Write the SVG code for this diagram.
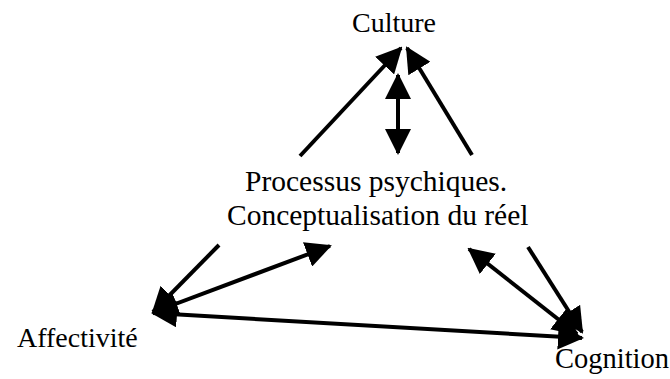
<svg xmlns="http://www.w3.org/2000/svg" width="670" height="379" viewBox="0 0 670 379">
  <defs>
    <marker id="head" viewBox="0 0 26 26" markerWidth="26" markerHeight="26" markerUnits="userSpaceOnUse" refX="24" refY="13" orient="auto-start-reverse">
      <path d="M0,0 L26,13 L0,26 z" fill="#000"/>
    </marker>
    <style>
      .lbl { font-family: "Liberation Serif", "Times New Roman", serif; font-size: 28px; fill: #000; }
      .big { font-size: 29.5px; }
      .conn path { fill: none; stroke: #000; stroke-width: 4; }
      .one { marker-end: url(#head); }
      .two { marker-start: url(#head); marker-end: url(#head); }
    </style>
  </defs>
  <rect width="670" height="379" fill="#fff"/>
  <g id="connectors" class="conn">
    <path class="one" d="M300,156 L401,48"/>
    <path class="one" d="M472,155 L407,48"/>
    <path class="two" d="M398,75 L398,153"/>
    <path class="one" d="M219,245 L153,312"/>
    <path class="two" d="M154,312 L330,246"/>
    <path class="two" d="M153,313 L582,338"/>
    <path class="one" d="M528,247 L582,332"/>
    <path class="two" d="M469,249 L577,334"/>
  </g>
  <g id="culture"><text class="lbl" x="352" y="32">Culture</text></g>
  <g id="processus">
    <text class="lbl big" x="245" y="191">Processus psychiques.</text>
    <text class="lbl big" x="227" y="225">Conceptualisation du réel</text>
  </g>
  <g id="affectivite"><text class="lbl" x="17" y="347">Affectivité</text></g>
  <g id="cognition"><text class="lbl" x="555" y="368" style="font-size:28.5px">Cognition</text></g>
</svg>
